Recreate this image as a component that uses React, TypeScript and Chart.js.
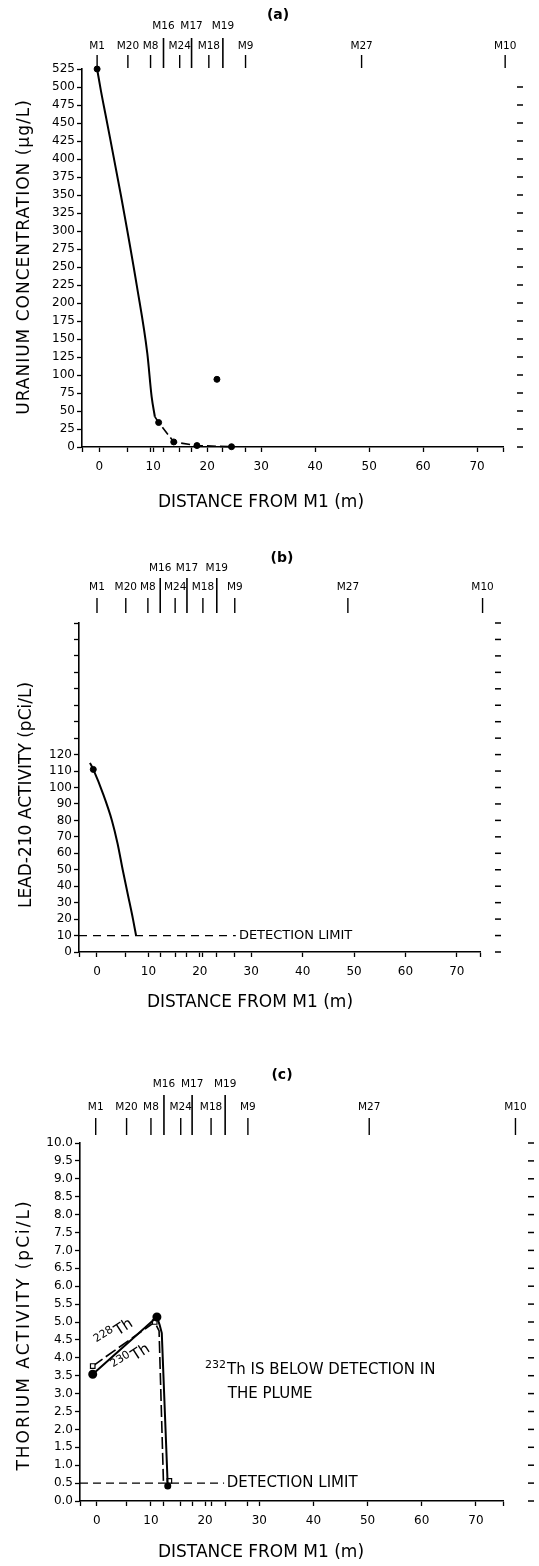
import React, { useEffect, useRef } from "react";
import { Chart, registerables } from "chart.js";

Chart.register(...registerables);

const FONT = '"DejaVu Sans", "Liberation Sans", sans-serif';

// Monitoring wells drawn along the top of every panel (positions read per panel)
const WELLS = ["M1", "M20", "M8", "M16", "M24", "M17", "M18", "M19", "M9", "M27", "M10"];
const WELL_UPPER = [false, false, false, true, false, true, false, true, false, false, false];
const WELL_X_A = [-0.4, 5.3, 9.5, 11.9, 14.9, 17.1, 20.3, 22.9, 27.1, 48.6, 75.2];
const WELL_X_B = [0, 5.6, 9.9, 12.3, 15.2, 17.5, 20.6, 23.3, 26.8, 48.8, 75.0];
const WELL_X_C = [-0.2, 5.5, 10.0, 12.4, 15.5, 17.6, 21.1, 23.7, 27.9, 50.3, 77.3];

// x-axis labels
const X_LABELS = [0, 10, 20, 30, 40, 50, 60, 70];

// (a) uranium
const U_TICKS = [0, 25, 50, 75, 100, 125, 150, 175, 200, 225, 250, 275, 300, 325, 350, 375, 400, 425, 450, 475, 500, 525];
const U_SOLID_X = [-0.4, 0.3, 1.2, 4.0, 7.0, 8.9, 9.7, 10.3];
const U_SOLID_Y = [525, 495, 460, 350, 222, 130, 70, 42];
const U_DASH_X = [10.3, 11.0, 13.8, 18.1, 24.5];
const U_DASH_Y = [42, 34, 7, 2, 0.4];
const U_POINT_X = [-0.4, 11.0, 13.8, 18.1, 24.5, 21.8];
const U_POINT_Y = [525, 34, 7, 2, 0.4, 94];

// (b) lead-210
const PB_TICKS = [0, 10, 20, 30, 40, 50, 60, 70, 80, 90, 100, 110, 120, 130, 140, 150, 160, 170, 180, 190, 200];
const PB_LABEL_MAX = 120;
const PB_X = [-1.36, -0.72, 1.2, 2.9, 4.0, 5.0, 6.0, 7.0, 7.6];
const PB_Y = [115, 111, 96, 80, 66, 50, 35, 20, 10];
const PB_POINT_X = [-0.72];
const PB_POINT_Y = [111];
const PB_LIMIT = 10;
const PB_LIMIT_END = 27.0;

// (c) thorium
const TH_TICKS = [0, 0.5, 1, 1.5, 2, 2.5, 3, 3.5, 4, 4.5, 5, 5.5, 6, 6.5, 7, 7.5, 8, 8.5, 9, 9.5, 10];
const TH230_X = [-0.75, 11.1, 11.6, 12.0, 13.1];
const TH230_Y = [3.54, 5.14, 4.92, 4.69, 0.42];
const TH228_X = [-0.75, 10.7, 11.5, 12.3, 13.4];
const TH228_Y = [3.77, 5.0, 4.75, 0.56, 0.56];
const TH_LIMIT = 0.5;
const TH_LIMIT_END = 23.5;

const zip = (xs: number[], ys: number[]) => xs.map((x, i) => ({ x, y: ys[i] }));

type Note = { sup?: string; text: string; x: number; y: number; rot?: number; size?: number; align?: CanvasTextAlign };

type PanelCfg = {
  letter: string;
  top: number;
  height: number;
  area: { left: number; right: number; top: number; bottom: number };
  xMin: number;
  xMax: number;
  yMin: number;
  yMax: number;
  yTicks: number[];
  wellX: number[];
  yLabel: (v: number) => string;
  yTitle: string;
  yTitleX: number;
  yTitleY: number;
  yTitleSize: number;
  yTitleSpacing: number;
  xTitleX: number;
  xTitleY: number;
  letterX: number;
  letterY: number;
  row1: number;
  row2: number;
  longTop: number;
  tickTop: number;
  tickBottom: number;
  dashOff: number;
  skipTopDash: boolean;
  datasets: any[];
  notes: Note[];
};

const black = "#000";

function limitSet(xMin: number, xEnd: number, y: number, dash: number[]) {
  return {
    data: [{ x: xMin, y }, { x: xEnd, y }],
    showLine: true,
    borderColor: black,
    borderWidth: 1.2,
    borderDash: dash,
    pointRadius: 0,
    clip: false,
  };
}

const PANELS: PanelCfg[] = [
  {
    letter: "(a)",
    top: 0,
    height: 520,
    area: { left: 82, right: 503, top: 69, bottom: 447 },
    xMin: -3.2,
    xMax: 74.8,
    yMin: 0,
    yMax: 525,
    yTicks: U_TICKS,
    wellX: WELL_X_A,
    yLabel: (v) => String(v),
    yTitle: "URANIUM CONCENTRATION (µg/L)",
    yTitleX: 25,
    yTitleY: 257,
    yTitleSize: 17,
    yTitleSpacing: 1,
    xTitleX: 261,
    xTitleY: 503,
    letterX: 278,
    letterY: 15,
    row1: 26,
    row2: 46,
    longTop: 38,
    tickTop: 55,
    tickBottom: 68,
    dashOff: 14,
    skipTopDash: true,
    datasets: [
      {
        data: zip(U_SOLID_X, U_SOLID_Y), showLine: true, borderColor: black, borderWidth: 2,
        pointRadius: 0, cubicInterpolationMode: "monotone", clip: false,
      },
      { data: zip(U_DASH_X, U_DASH_Y), showLine: true, borderColor: black, borderWidth: 1.6, borderDash: [9, 4], pointRadius: 0, clip: false },
      { data: zip(U_POINT_X, U_POINT_Y), showLine: false, pointRadius: 3, pointBackgroundColor: black, pointBorderColor: black, clip: false },
    ],
    notes: [],
  },
  {
    letter: "(b)",
    top: 520,
    height: 510,
    area: { left: 79, right: 480, top: 623, bottom: 952 },
    xMin: -3.5,
    xMax: 74.5,
    yMin: 0,
    yMax: 200,
    yTicks: PB_TICKS,
    wellX: WELL_X_B,
    yLabel: (v) => (v <= PB_LABEL_MAX ? String(v) : ""),
    yTitle: "LEAD-210 ACTIVITY (pCi/L)",
    yTitleX: 27,
    yTitleY: 795,
    yTitleSize: 17,
    yTitleSpacing: 0,
    xTitleX: 250,
    xTitleY: 1003,
    letterX: 282,
    letterY: 558,
    row1: 568,
    row2: 587,
    longTop: 578,
    tickTop: 598,
    tickBottom: 613,
    dashOff: 15,
    skipTopDash: false,
    datasets: [
      {
        data: zip(PB_X, PB_Y), showLine: true, borderColor: black, borderWidth: 2,
        pointRadius: 0, cubicInterpolationMode: "monotone", clip: false,
      },
      { data: zip(PB_POINT_X, PB_POINT_Y), showLine: false, pointRadius: 3, pointBackgroundColor: black, pointBorderColor: black, clip: false },
      limitSet(-3.5, PB_LIMIT_END, PB_LIMIT, [8, 6]),
    ],
    notes: [{ text: "DETECTION LIMIT", x: 27.6, y: PB_LIMIT, size: 13 }],
  },
  {
    letter: "(c)",
    top: 1030,
    height: 536,
    area: { left: 80, right: 503, top: 1143, bottom: 1501 },
    xMin: -3.1,
    xMax: 75.0,
    yMin: 0,
    yMax: 10,
    yTicks: TH_TICKS,
    wellX: WELL_X_C,
    yLabel: (v) => v.toFixed(1),
    yTitle: "THORIUM ACTIVITY (pCi/L)",
    yTitleX: 25,
    yTitleY: 1335,
    yTitleSize: 17,
    yTitleSpacing: 2,
    xTitleX: 261,
    xTitleY: 1553,
    letterX: 282,
    letterY: 1075,
    row1: 1084,
    row2: 1107,
    longTop: 1095,
    tickTop: 1118,
    tickBottom: 1135,
    dashOff: 25,
    skipTopDash: false,
    datasets: [
      {
        data: zip(TH230_X, TH230_Y), showLine: true, borderColor: black, borderWidth: 2,
        pointRadius: [3.5, 3.5, 0, 0, 2.5], pointBackgroundColor: black, pointBorderColor: black, clip: false,
      },
      {
        data: zip(TH228_X, TH228_Y), showLine: true, borderColor: black, borderWidth: 1.6, borderDash: [12, 4],
        pointStyle: "rect", pointRadius: [3.2, 3.2, 0, 0, 3.2], pointBackgroundColor: "#fff", pointBorderColor: black,
        pointBorderWidth: 1.2, clip: false,
      },
      limitSet(-3.1, TH_LIMIT_END, TH_LIMIT, [8, 5]),
    ],
    notes: [
      { text: "DETECTION LIMIT", x: 24.0, y: TH_LIMIT, size: 15 },
      { sup: "232", text: "Th IS BELOW DETECTION IN", x: 20.0, y: 3.66, size: 15 },
      { text: "THE PLUME", x: 24.2, y: 2.98, size: 15 },
      { sup: "228", text: "Th", x: 3.3, y: 4.68, size: 15, rot: -33, align: "center" },
      { sup: "230", text: "Th", x: 6.4, y: 3.98, size: 15, rot: -33, align: "center" },
    ],
  },
];

function drawNote(ctx: CanvasRenderingContext2D, n: Note, px: number, py: number) {
  const size = n.size || 14;
  const supSize = Math.round(size * 0.72);
  ctx.save();
  ctx.translate(px, py);
  if (n.rot) ctx.rotate((n.rot * Math.PI) / 180);
  ctx.textBaseline = "middle";
  ctx.textAlign = "left";
  ctx.font = `${supSize}px ${FONT}`;
  const supW = n.sup ? ctx.measureText(n.sup).width + 1 : 0;
  ctx.font = `${size}px ${FONT}`;
  const mainW = ctx.measureText(n.text).width;
  let x0 = 0;
  if (n.align === "center") x0 = -(supW + mainW) / 2;
  if (n.sup) {
    ctx.font = `${supSize}px ${FONT}`;
    ctx.fillText(n.sup, x0, -size * 0.35);
  }
  ctx.font = `${size}px ${FONT}`;
  ctx.fillText(n.text, x0 + supW, 0);
  ctx.restore();
}

function decor(p: PanelCfg) {
  return {
    id: "decor" + p.letter,
    afterDraw(chart: any) {
      const ctx: CanvasRenderingContext2D = chart.ctx;
      const xs = chart.scales.x;
      const ys = chart.scales.y;
      const ca = chart.chartArea;
      const o = p.top;
      ctx.save();
      ctx.fillStyle = black;
      ctx.strokeStyle = black;

      // panel letter
      ctx.font = `bold 14px ${FONT}`;
      ctx.textAlign = "center";
      ctx.textBaseline = "middle";
      ctx.fillText(p.letter, p.letterX, p.letterY - o);

      // wells
      ctx.font = `10.5px ${FONT}`;
      WELLS.forEach((w, i) => {
        const x = xs.getPixelForValue(p.wellX[i]);
        const up = WELL_UPPER[i];
        ctx.fillText(w, x, (up ? p.row1 : p.row2) - o);
        ctx.lineWidth = up ? 1.6 : 1.4;
        ctx.beginPath();
        ctx.moveTo(x, (up ? p.longTop : p.tickTop) - o);
        ctx.lineTo(x, p.tickBottom - o);
        ctx.stroke();
      });

      // mirrored dashes on the right
      ctx.lineWidth = 1.5;
      ys.ticks.forEach((t: any) => {
        if (p.skipTopDash && t.value === p.yMax) return;
        const y = ys.getPixelForValue(t.value);
        ctx.beginPath();
        ctx.moveTo(ca.right + p.dashOff, y);
        ctx.lineTo(ca.right + p.dashOff + 6, y);
        ctx.stroke();
      });

      // axis titles
      ctx.font = `${p.yTitleSize}px ${FONT}`;
      (ctx as any).letterSpacing = `${p.yTitleSpacing}px`;
      ctx.save();
      ctx.translate(p.yTitleX, p.yTitleY - o);
      ctx.rotate(-Math.PI / 2);
      ctx.textAlign = "center";
      ctx.fillText(p.yTitle, 0, 0);
      ctx.restore();
      (ctx as any).letterSpacing = "0px";
      ctx.font = `17px ${FONT}`;
      ctx.textAlign = "center";
      ctx.fillText("DISTANCE FROM M1 (m)", p.xTitleX, p.xTitleY - o);

      // notes
      p.notes.forEach((n) => drawNote(ctx, n, xs.getPixelForValue(n.x), ys.getPixelForValue(n.y)));
      ctx.restore();
    },
  };
}

function buildConfig(p: PanelCfg): any {
  const wellTicks = p.wellX.filter((v) => v > 1 && v < 30 && !X_LABELS.some((l) => Math.abs(l - v) < 0.5));
  const xTicks = [p.xMin, ...X_LABELS, ...wellTicks, p.xMax].sort((a, b) => a - b);
  const grid = { display: true, drawOnChartArea: false, drawTicks: true, tickLength: 5, color: black, tickColor: black, tickWidth: 1.3 };
  const border = { display: true, color: black, width: 1.6 };
  return {
    type: "scatter",
    data: { datasets: p.datasets },
    options: {
      responsive: false,
      maintainAspectRatio: false,
      animation: false,
      events: [],
      layout: { autoPadding: false, padding: { left: 0, right: 539 - p.area.right, top: p.area.top - p.top, bottom: 0 } },
      plugins: { legend: { display: false }, tooltip: { enabled: false }, title: { display: false } },
      scales: {
        x: {
          type: "linear",
          position: "bottom",
          min: p.xMin,
          max: p.xMax,
          afterFit: (s: any) => { s.height = p.top + p.height - p.area.bottom; },
          afterBuildTicks: (s: any) => { s.ticks = xTicks.map((v) => ({ value: v })); },
          ticks: {
            autoSkip: false, maxRotation: 0, padding: 8, color: black,
            font: { family: FONT, size: 12 },
            callback: (v: number) => (X_LABELS.includes(v) ? String(v) : ""),
          },
          grid, border,
        },
        y: {
          type: "linear",
          position: "left",
          min: p.yMin,
          max: p.yMax,
          afterFit: (s: any) => { s.width = p.area.left; },
          afterBuildTicks: (s: any) => { s.ticks = p.yTicks.map((v) => ({ value: v })); },
          ticks: {
            autoSkip: false, padding: 2, color: black,
            font: { family: FONT, size: 12 },
            callback: (v: number) => p.yLabel(v),
          },
          grid, border,
        },
      },
    },
    plugins: [decor(p)],
  };
}

function Panel({ cfg }: { cfg: PanelCfg }) {
  const ref = useRef<HTMLCanvasElement>(null);
  useEffect(() => {
    const chart = new Chart(ref.current as HTMLCanvasElement, buildConfig(cfg));
    return () => chart.destroy();
  }, [cfg]);
  return (
    <canvas
      ref={ref}
      width={539}
      height={cfg.height}
      style={{ position: "absolute", left: 0, top: cfg.top, width: 539, height: cfg.height }}
    />
  );
}

export default function App() {
  return (
    <div style={{ position: "absolute", left: 0, top: 0, width: 539, height: 1566, background: "#fff", overflow: "hidden" }}>
      {PANELS.map((p) => (
        <Panel key={p.letter} cfg={p} />
      ))}
    </div>
  );
}
